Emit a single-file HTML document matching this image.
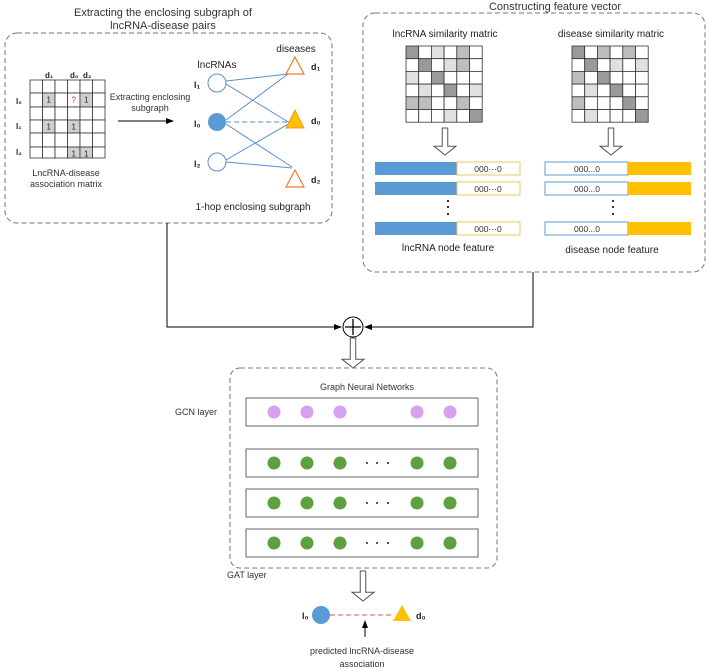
<!DOCTYPE html>
<html><head><meta charset="utf-8"><style>
html,body{margin:0;padding:0;background:#fff;}
svg{display:block;font-family:"Liberation Sans",sans-serif;}
</style></head><body>
<svg id="s" width="708" height="669" viewBox="0 0 708 669" xmlns="http://www.w3.org/2000/svg">
<defs>
<marker id="ah" markerWidth="8" markerHeight="8" refX="7" refY="4" orient="auto" markerUnits="userSpaceOnUse"><path d="M0,1 L8,4 L0,7 Z" fill="#000"/></marker>
</defs>
<g font-size="11" fill="#333" text-anchor="middle">
<text x="163" y="16">Extracting the enclosing subgraph  of</text>
<text x="163" y="29">lncRNA-disease pairs</text>
<text x="555" y="10">Constructing feature vector</text>
</g>
<rect x="5" y="33" width="327" height="190" rx="12" fill="none" stroke="#777" stroke-dasharray="5,3"/>
<rect x="363" y="13" width="342" height="259" rx="12" fill="none" stroke="#777" stroke-dasharray="5,3"/>
<g id="mat"></g>
<g font-size="8" font-weight="bold" fill="#222">
<text x="45" y="78">d₁</text><text x="70" y="78">d₀</text><text x="83" y="78">d₂</text>
<text x="16" y="104">l₀</text><text x="16" y="129">l₁</text><text x="16" y="155">l₂</text>
</g>
<g font-size="9" fill="#333" text-anchor="middle">
<text x="66" y="176">LncRNA-disease</text><text x="66" y="187">association matrix</text>
<text x="150" y="100">Extracting enclosing</text><text x="150" y="111">subgraph</text>
</g>
<line x1="118" y1="121" x2="173" y2="121" stroke="#000" marker-end="url(#ah)"/>
<g stroke="#5b8fcc" stroke-width="1">
<line x1="226" y1="81" x2="288" y2="74"/><line x1="226" y1="84" x2="290" y2="123"/>
<line x1="226" y1="120" x2="288" y2="74"/><line x1="226" y1="124" x2="292" y2="167"/>
<line x1="226" y1="160" x2="290" y2="123"/><line x1="226" y1="162" x2="292" y2="168"/>
<line x1="226" y1="122" x2="288" y2="122" stroke-dasharray="5,3"/>
</g>
<circle cx="217" cy="83" r="9" fill="#fff" stroke="#5b8fcc"/>
<circle cx="217" cy="122" r="9" fill="#5b9bd5"/>
<circle cx="217" cy="162" r="9" fill="#fff" stroke="#5b8fcc"/>
<polygon points="295,57 286,74 304,74" fill="#fff" stroke="#ed7d31" stroke-width="1.2"/>
<polygon points="295,110 286,128 304,128" fill="#ffc000" stroke="#ed9a31"/>
<polygon points="295,170 286,187 304,187" fill="#fff" stroke="#ed7d31" stroke-width="1.2"/>
<g font-size="10" fill="#222">
<text x="217" y="68" text-anchor="middle">lncRNAs</text>
<text x="296" y="52" text-anchor="middle">diseases</text>
<text x="194" y="88" font-weight="bold" font-size="9">l₁</text>
<text x="194" y="127" font-weight="bold" font-size="9">l₀</text>
<text x="194" y="167" font-weight="bold" font-size="9">l₂</text>
<text x="311" y="70" font-weight="bold" font-size="9">d₁</text>
<text x="311" y="124" font-weight="bold" font-size="9">d₀</text>
<text x="311" y="183" font-weight="bold" font-size="9">d₂</text>
<text x="253" y="210" text-anchor="middle">1-hop enclosing subgraph</text>
<text x="445" y="37" text-anchor="middle">lncRNA similarity matric</text>
<text x="611" y="37" text-anchor="middle">disease similarity matric</text>
<text x="448" y="251" text-anchor="middle">lncRNA node feature</text>
<text x="612" y="253" text-anchor="middle">disease node feature</text>
</g>
<g id="bars"></g>
<!-- connectors -->
<polyline points="167,223 167,327 341,327" fill="none" stroke="#000" marker-end="url(#ah)"/>
<polyline points="533,272 533,327 365,327" fill="none" stroke="#000" marker-end="url(#ah)"/>
<circle cx="353" cy="327" r="10" fill="#fff" stroke="#000"/>
<path d="M345,327 H361 M353,319 V335" stroke="#000" stroke-width="1.3"/>
<g id="harrows" fill="#fff" stroke="#555"></g>
<rect x="230" y="368" width="267" height="200" rx="10" fill="none" stroke="#777" stroke-dasharray="5,3"/>
<g font-size="9" fill="#333">
<text x="367" y="390" text-anchor="middle">Graph Neural Networks</text>
<text x="175" y="415">GCN layer</text>
<text x="227" y="578">GAT layer</text>
</g>
<g id="layers"></g>
<line x1="330" y1="615" x2="393" y2="615" stroke="#e05050" stroke-dasharray="5,3"/>
<circle cx="321" cy="615" r="9" fill="#5b9bd5"/>
<polygon points="402,605 393,621 411,621" fill="#ffc000"/>
<text x="302" y="619" font-size="9" font-weight="bold" fill="#222">l₀</text>
<text x="416" y="619" font-size="9" font-weight="bold" fill="#222">d₀</text>
<line x1="365" y1="637" x2="365" y2="621" stroke="#000" marker-end="url(#ah)"/>
<g font-size="9" fill="#333" text-anchor="middle">
<text x="362" y="654">predicted lncRNA-disease</text><text x="362" y="667">association</text>
</g>
</svg>
<script>
var NS="http://www.w3.org/2000/svg";
function el(p,t,a,txt){var e=document.createElementNS(NS,t);for(var k in a)e.setAttribute(k,a[k]);if(txt!=null)e.textContent=txt;document.getElementById(p).appendChild(e);return e;}
// association matrix
var xs=[30,42.5,55,67.5,80,92.5,105],ys=[80,93,107,120,133,147,158];
var g={"1,1":"1","1,3":"?","1,4":"1","3,1":"1","3,3":"1","5,3":"1","5,4":"1"};
for(var r=0;r<6;r++)for(var c=0;c<6;c++){var k=r+","+c;var f=(g[k]&&g[k]!="?")?"#d0d0d0":"#fff";
el("mat","rect",{x:xs[c],y:ys[r],width:xs[c+1]-xs[c],height:ys[r+1]-ys[r],fill:f,stroke:"#333","stroke-width":0.8});
if(g[k])el("mat","text",{x:(xs[c]+xs[c+1])/2,y:ys[r]+9.5,"font-size":8,"text-anchor":"middle",fill:g[k]=="?"?"#d02020":"#222"},g[k]);}
var C={D:"#9a9a9a",M:"#bdbdbd",L:"#e0e0e0",W:"#fff"};
var A=["DWLWMW","WDWLMW","LWDWWW","WLWDWL","MMWWMW","WWWLWD"],B=["DWMWMW","WDWLWL","MWDWWW","WLWDWW","MWWWDW","WLWWWD"];
function sm(x0,G){for(var r=0;r<6;r++)for(var c=0;c<6;c++)el("mat","rect",{x:x0+c*12.7,y:46+r*12.7,width:12.7,height:12.7,fill:C[G[r][c]],stroke:"#333","stroke-width":0.8});}
sm(406,A);sm(572,B);
// bars
[162,182,222].forEach(function(y){
el("bars","rect",{x:375,y:y,width:82,height:13,fill:"#5b9bd5"});
el("bars","rect",{x:457,y:y,width:63,height:13,fill:"#fff",stroke:"#e8c860"});
el("bars","text",{x:488,y:y+10,"font-size":8.5,"text-anchor":"middle",fill:"#333"},"000\u22EF0");
el("bars","rect",{x:545,y:y,width:83,height:13,fill:"#fff",stroke:"#5b9bd5"});
el("bars","rect",{x:628,y:y,width:63,height:13,fill:"#ffc000"});
el("bars","text",{x:587,y:y+10,"font-size":8.5,"text-anchor":"middle",fill:"#333"},"000...0");});
[448,613].forEach(function(x){[201,207,214].forEach(function(y){el("bars","circle",{cx:x,cy:y,r:1.1,fill:"#222"});});});
// hollow arrows
function ha(cx,y0,y1,w){var s=w/2,h=w;el("harrows","path",{d:"M"+(cx-s/2)+","+y0+" H"+(cx+s/2)+" V"+(y1-h*0.8)+" H"+(cx+w)+" L"+cx+","+y1+" L"+(cx-w)+","+(y1-h*0.8)+" H"+(cx-s/2)+" Z"});}
ha(445,128,155,11);ha(611,128,155,11);ha(353,338,368,11);ha(363,571,601,11);
// layers
var lx=[274,307,340,417,450];
[[412,"#d9a0f0",0],[463,"#5da040",1],[503,"#5da040",1],[543,"#5da040",1]].forEach(function(L){
el("layers","rect",{x:246,y:L[0]-14,width:232,height:28,fill:"#fff",stroke:"#666"});
lx.forEach(function(x){el("layers","circle",{cx:x,cy:L[0],r:6.5,fill:L[1]});});
if(L[2])[367,377,388].forEach(function(x){el("layers","circle",{cx:x,cy:L[0],r:1,fill:"#222"});});});
</script>
</body></html>
